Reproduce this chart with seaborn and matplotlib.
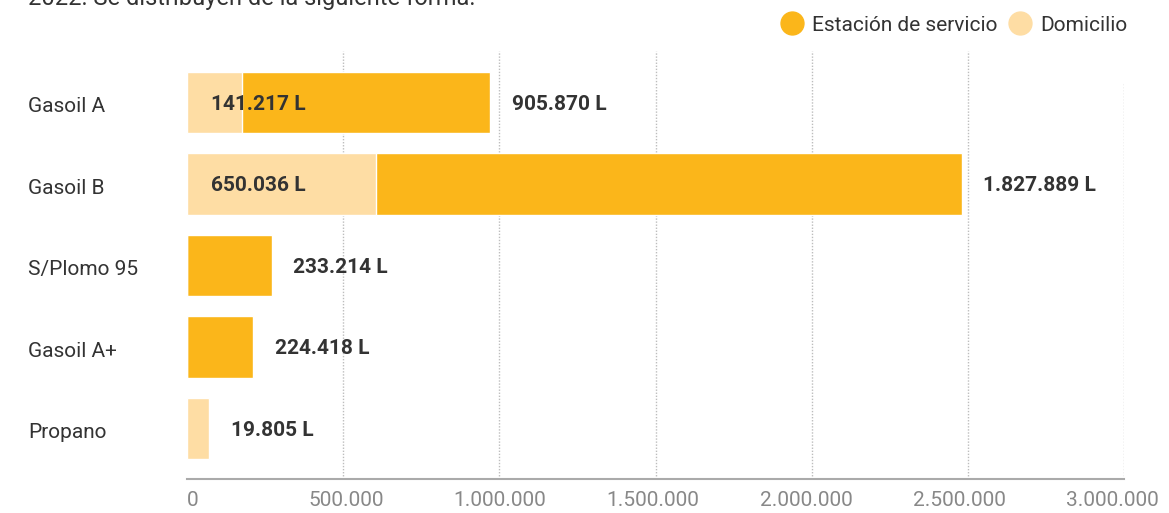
import matplotlib
matplotlib.use("Agg")
import matplotlib.pyplot as plt
import matplotlib.transforms as mtransforms
from matplotlib.lines import Line2D
import seaborn as sns
import pandas as pd

# data (bar lengths, labels as printed)
categories = ["Gasoil A", "Gasoil B", "S/Plomo 95", "Gasoil A+", "Propano"]
domicilio = [176000, 604000, 0, 0, 70000]
estacion = [795000, 1877000, 272000, 212000, 0]
domicilio_labels = [141217, 650036, None, None, 19805]
estacion_labels = [905870, 1827889, 233214, 224418, None]
x_ticks = [0, 500000, 1000000, 1500000, 2000000, 2500000, 3000000]

ORANGE = "#FBB61A"
LIGHT = "#FEDDA4"
DARK = "#333333"
GREY = "#888888"

W, H = 1169, 513
X0, X1, Y0, Y1 = 187, 1124, 51, 479   # plot area in pixels
STEP = 81.5


def fmt(v):
    return f"{v:,}".replace(",", ".")


df = pd.DataFrame({"cat": categories, "dom": domicilio, "est": estacion})
df["total"] = df["dom"] + df["est"]

sns.set_style("white")
plt.rcParams["font.family"] = ["Roboto", "DejaVu Sans"]

fig = plt.figure(figsize=(W / 100, H / 100), dpi=100)
ax = fig.add_axes([X0 / W, 1 - Y1 / H, (X1 - X0) / W, (Y1 - Y0) / H])

# dotted gridlines (last one is a little shorter in the original)
for t in x_ticks[1:]:
    ax.axvline(t, ymin=0, ymax=1 if t < 3000000 else (Y1 - 83) / (Y1 - Y0),
               color="#bdbdbd", linestyle=(0, (1, 1.2)), linewidth=1, zorder=0)

sns.barplot(data=df, x="total", y="cat", color=ORANGE, width=0.75, orient="h",
            saturation=1, ax=ax, zorder=2)
sns.barplot(data=df, x="dom", y="cat", color=LIGHT, width=0.75, orient="h",
            saturation=1, ax=ax, zorder=3)

ax.set_xlim(0, 3000000)
ax.set_ylim(4 + (Y1 - 428.5) / STEP, -(102.5 - Y0) / STEP)
ax.set_xticks(x_ticks)
ax.set_xticklabels([fmt(t) for t in x_ticks])
ax.tick_params(axis="x", length=0, pad=9, labelsize=15, labelcolor=GREY)
# tick labels sit slightly left of their gridlines in the original
for k, lab in enumerate(ax.get_xticklabels()):
    dx = (6 - 2.9 * k) / 100
    lab.set_transform(lab.get_transform() + mtransforms.ScaledTranslation(dx, 0, fig.dpi_scale_trans))
ax.set_yticks([])
ax.set_xlabel("")
ax.set_ylabel("")
for s in ["top", "right", "left"]:
    ax.spines[s].set_visible(False)
ax.spines["bottom"].set_color("#aaaaaa")
ax.spines["bottom"].set_linewidth(1.5)

ytr = ax.get_yaxis_transform()
for i, cat in enumerate(categories):
    ax.text(-(X0 - 28) / (X1 - X0), i + 0.05, cat, transform=ytr, ha="left", va="center",
            fontsize=15, color=DARK)
    total = df.loc[i, "total"]
    if domicilio_labels[i] is not None:
        anchor = 0 if estacion[i] > 0 else total
        off = 17 if estacion[i] > 0 else 16
        ax.annotate(fmt(domicilio_labels[i]) + " L", (anchor, i + 0.02), xytext=(off, 0),
                    textcoords="offset points", ha="left", va="center",
                    fontsize=15, fontweight="bold", color=DARK, zorder=5)
    if estacion_labels[i] is not None:
        ax.annotate(fmt(estacion_labels[i]) + " L", (total, i + 0.02), xytext=(15.5, 0),
                    textcoords="offset points", ha="left", va="center",
                    fontsize=15, fontweight="bold", color=DARK, zorder=5)

# legend
handles = [
    Line2D([], [], marker="o", linestyle="", markersize=16.5, color=ORANGE),
    Line2D([], [], marker="o", linestyle="", markersize=16.5, color=LIGHT),
]
fig.legend(handles, ["Estación de servicio", "Domicilio"], loc="upper right",
           bbox_to_anchor=(1146 / W, 1 + 3 / H), ncol=2, frameon=False,
           fontsize=15, handlelength=1.0, handletextpad=0.45, columnspacing=0.6,
           labelcolor=DARK)

# partially visible intro line at the very top
fig.text(28 / W, 1 - 5 / H, "2022. Se distribuyen de la siguiente forma.",
         ha="left", va="baseline", fontsize=17, color=DARK)

fig.savefig("out.png", dpi=100)
